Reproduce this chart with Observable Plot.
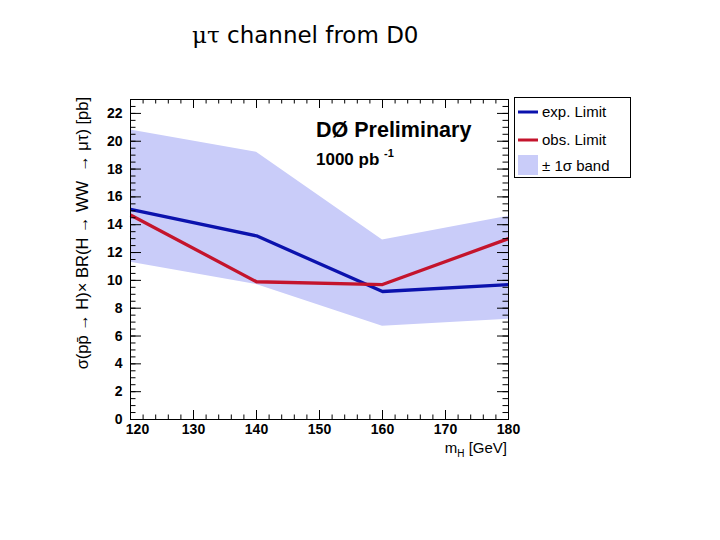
<!DOCTYPE html>
<html>
<head>
<meta charset="utf-8">
<script src="https://cdn.jsdelivr.net/npm/d3@7"></script>
<script src="https://cdn.jsdelivr.net/npm/@observablehq/plot@0.6"></script>
<style>
  body { margin: 0; background: white; }
  #chart { width: 720px; height: 540px; }
</style>
</head>
<body>
<div id="chart"></div>
<script>
// Data
const mH = [120, 140, 160, 180];
const expLimit = [15.1, 13.2, 9.2, 9.7];
const obsLimit = [14.7, 9.9, 9.7, 13.0];
const bandLow = [11.3, 9.7, 6.7, 7.2];
const bandHigh = [20.8, 19.2, 12.9, 14.6];

const yMajor = [0, 2, 4, 6, 8, 10, 12, 14, 16, 18, 20, 22];
const yMinor = d3.range(0, 23.01, 0.5);
const xMajor = [120, 130, 140, 150, 160, 170, 180];
const xMinor = d3.range(120, 180.01, 2);

const data = mH.map((m, i) => ({m, exp: expLimit[i], obs: obsLimit[i], lo: bandLow[i], hi: bandHigh[i]}));

const bandColor = "#c9ccf9";
const expColor = "#0b12ad";
const obsColor = "#c4142c";

const W = 720, H = 540, mL = 130, mR = 212, mT = 99, mB = 121;
const fw = W - mL - mR, fh = H - mT - mB;

const chart = Plot.plot({
  width: W, height: H,
  marginLeft: mL, marginRight: mR, marginTop: mT, marginBottom: mB,
  x: {domain: [120, 180]},
  y: {domain: [0, 23]},
  style: {fontFamily: "'Liberation Sans', Arial, sans-serif", fontSize: "14px", fontWeight: "bold", background: "white", color: "black"},
  marks: [
    Plot.areaY(data, {x: "m", y1: "lo", y2: "hi", fill: bandColor}),
    Plot.line(data, {x: "m", y: "exp", stroke: expColor, strokeWidth: 3.3, strokeLinecap: "butt"}),
    Plot.line(data, {x: "m", y: "obs", stroke: obsColor, strokeWidth: 3.3, strokeLinecap: "butt"}),
    // inward ticks, left and right
    Plot.tickY(yMajor, {y: d => d, insetRight: fw - 11, stroke: "black"}),
    Plot.tickY(yMinor, {y: d => d, insetRight: fw - 5.5, stroke: "black"}),
    Plot.tickY(yMajor, {y: d => d, insetLeft: fw - 11, stroke: "black"}),
    Plot.tickY(yMinor, {y: d => d, insetLeft: fw - 5.5, stroke: "black"}),
    // inward ticks, bottom and top
    Plot.tickX(xMajor, {x: d => d, insetTop: fh - 9, stroke: "black"}),
    Plot.tickX(xMinor, {x: d => d, insetTop: fh - 4.5, stroke: "black"}),
    Plot.tickX(xMajor, {x: d => d, insetBottom: fh - 9, stroke: "black"}),
    Plot.tickX(xMinor, {x: d => d, insetBottom: fh - 4.5, stroke: "black"}),
    Plot.axisY(yMajor, {anchor: "left", tickSize: 0, tickPadding: 8, label: null}),
    Plot.axisX(xMajor.slice(0, 1), {anchor: "bottom", tickSize: 0, tickPadding: 5, dx: 7, label: null}),
    Plot.axisX(xMajor.slice(1), {anchor: "bottom", tickSize: 0, tickPadding: 5, label: null}),
    Plot.frame({stroke: "black", strokeWidth: 1})
  ]
});
document.getElementById("chart").appendChild(chart);

// Annotations (title, labels, legend)
const svg = d3.select(chart);
const ann = svg.append("g")
  .attr("font-family", "'Liberation Sans', Arial, sans-serif")
  .attr("font-weight", "normal")
  .attr("text-anchor", "start")
  .attr("fill", "black");

// Title
const title = ann.append("text").attr("x", 192).attr("y", 43)
  .attr("font-family", "'DejaVu Sans', sans-serif").attr("font-size", 23);
title.append("tspan").attr("font-family", "'DejaVu Serif', serif").text("μτ");
title.append("tspan").text(" channel from D0");

// DØ Preliminary
ann.append("text").attr("x", 316).attr("y", 137).attr("font-size", 21.5).attr("font-weight", "bold").text("DØ Preliminary");
const lum = ann.append("text").attr("x", 316).attr("y", 165).attr("font-size", 17).attr("font-weight", "bold");
lum.append("tspan").text("1000 pb ");
lum.append("tspan").attr("font-size", 11).attr("dy", -8).text("-1");

// Y axis title
ann.append("text")
  .attr("transform", "translate(88,97) rotate(-90)")
  .attr("text-anchor", "end")
  .attr("font-size", 16.5)
  .text("σ(pp\u0304 → H)× BR(H → WW\u00a0 → μτ) [pb]");

// X axis title
const xt = ann.append("text").attr("x", 507).attr("y", 453).attr("text-anchor", "end").attr("font-size", 15);
xt.append("tspan").text("m");
xt.append("tspan").attr("font-size", 10).attr("dy", 4).text("H");
xt.append("tspan").attr("dy", -4).text(" [GeV]");

// Legend
const lg = ann.append("g");
lg.append("rect").attr("x", 514.5).attr("y", 97.5).attr("width", 116).attr("height", 80)
  .attr("fill", "white").attr("stroke", "black");
lg.append("line").attr("x1", 518).attr("x2", 538).attr("y1", 112).attr("y2", 112).attr("stroke", expColor).attr("stroke-width", 3);
lg.append("text").attr("x", 542).attr("y", 117).attr("font-size", 15).text("exp. Limit");
lg.append("line").attr("x1", 518).attr("x2", 538).attr("y1", 140).attr("y2", 140).attr("stroke", obsColor).attr("stroke-width", 3);
lg.append("text").attr("x", 542).attr("y", 145).attr("font-size", 15).text("obs. Limit");
lg.append("rect").attr("x", 518).attr("y", 155).attr("width", 20).attr("height", 20).attr("fill", bandColor);
lg.append("text").attr("x", 542).attr("y", 171).attr("font-size", 15).text("± 1σ band");
</script>
</body>
</html>
